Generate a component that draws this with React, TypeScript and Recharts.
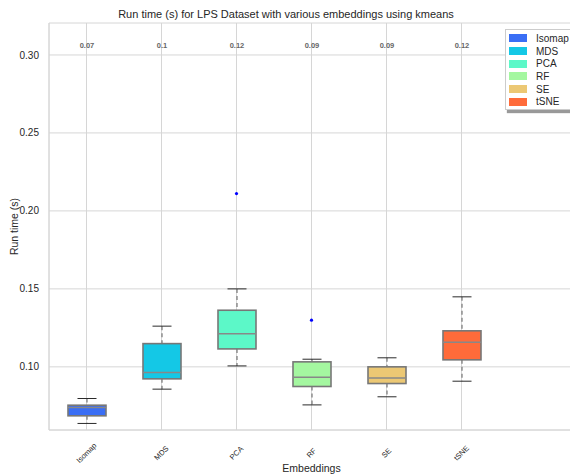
import React from 'react';
import { ComposedChart, Bar, Scatter, XAxis, YAxis, CartesianGrid, Legend } from 'recharts';

const categories = ['Isomap', 'MDS', 'PCA', 'RF', 'SE', 'tSNE'];
const colors = ['#3a6ef5', '#14c8e6', '#5cf8c8', '#a4f7a0', '#ecc874', '#ff6b3a'];
const whiskerLow = [0.0637, 0.0857, 0.1006, 0.0756, 0.0808, 0.0908];
const q1 = [0.0686, 0.0923, 0.1115, 0.0874, 0.0893, 0.1045];
const medians = [0.0739, 0.0963, 0.1213, 0.0934, 0.0928, 0.1158];
const q3 = [0.0754, 0.1149, 0.1363, 0.1032, 0.1000, 0.1231];
const whiskerHigh = [0.0797, 0.1261, 0.1500, 0.1049, 0.1058, 0.1449];
const meanLabels = ['0.07', '0.1', '0.12', '0.09', '0.09', '0.12'];
const outlierCats = ['PCA', 'RF'];
const outlierValues = [0.2111, 0.1299];
const yTicks = [0.1, 0.15, 0.2, 0.25, 0.3];
const yDomain = [0.0595, 0.3205];
const xDomain = [0.5, 7.5];

const data = categories.map((c, i) => ({
  pos: i + 1,
  name: c,
  color: colors[i],
  box: [q1[i], q3[i]],
  q1: q1[i],
  q3: q3[i],
  med: medians[i],
  lo: whiskerLow[i],
  hi: whiskerHigh[i],
  mean: meanLabels[i],
}));

const outliers = outlierCats.map((c, i) => ({ pos: categories.indexOf(c) + 1, value: outlierValues[i] }));

const FONT = '"Liberation Sans", Arial, sans-serif';

const BoxShape = (props: any) => {
  const { x, y, width, height, payload } = props;
  const p = payload;
  const k = height / (p.q3 - p.q1);
  const yv = (v: number) => y + (p.q3 - v) * k;
  const cx = x + width / 2;
  const capW = width / 2;
  const plotTop = yv(yDomain[1]);
  return (
    <g>
      <text x={cx} y={plotTop + 22} textAnchor="middle" dominantBaseline="central" fontSize={7.5} fontWeight="bold"
        fill="#666" fontFamily={FONT}>{p.mean}</text>
      <line x1={cx} x2={cx} y1={yv(p.hi)} y2={y} stroke="#777" strokeWidth={1.2} strokeDasharray="4 3" />
      <line x1={cx} x2={cx} y1={y + height} y2={yv(p.lo)} stroke="#777" strokeWidth={1.2} strokeDasharray="4 3" />
      <line x1={cx - capW / 2} x2={cx + capW / 2} y1={yv(p.hi)} y2={yv(p.hi)} stroke="#2a2a2a" strokeWidth={1} />
      <line x1={cx - capW / 2} x2={cx + capW / 2} y1={yv(p.lo)} y2={yv(p.lo)} stroke="#2a2a2a" strokeWidth={1} />
      <rect x={x} y={y} width={width} height={height} fill={p.color} stroke="#777" strokeWidth={1.6} />
      <line x1={x} x2={x + width} y1={yv(p.med)} y2={yv(p.med)} stroke="#888" strokeWidth={1.5} />
    </g>
  );
};

const OutlierShape = (props: any) => {
  const { cx, cy } = props;
  return <circle cx={cx} cy={cy} r={1.6} fill="#0000ff" />;
};

const BottomTick = (props: any) => {
  const { x, y, payload } = props;
  const label = categories[payload.value - 1];
  if (!label) return null;
  const cy = y + 15;
  return (
    <text x={x} y={cy} transform={`rotate(-45, ${x}, ${cy})`} textAnchor="middle" dominantBaseline="central"
      fontSize={7.5} fill="#262626" fontFamily={FONT}>{label}</text>
  );
};

const LegendContent = () => (
  <div style={{
    position: 'absolute', left: 505, top: 29, width: 80, height: 81, background: '#fff',
    border: '1px solid #ccc', boxShadow: '2px 3px 1px #999', fontFamily: FONT, fontSize: 10, color: '#262626',
    boxSizing: 'border-box', paddingTop: 2,
  }}>
    {categories.map((c, i) => (
      <div key={c} style={{ display: 'flex', alignItems: 'center', height: 12.7 }}>
        <div style={{ width: 18, height: 8, background: colors[i], marginLeft: 3, marginRight: 9 }} />
        <span>{c}</span>
      </div>
    ))}
  </div>
);

export default function App() {
  return (
    <div style={{ position: 'absolute', left: 0, top: 0, width: 570, height: 475, overflow: 'hidden', background: '#fff' }}>
      <svg width={570} height={30} style={{ position: 'absolute', left: 0, top: 0 }}>
        <text x={286} y={14} textAnchor="middle" dominantBaseline="central" fontSize={11} fill="#262626" fontFamily={FONT}>
          Run time (s) for LPS Dataset with various embeddings using kmeans
        </text>
      </svg>
      <div style={{ position: 'absolute', left: 0, top: 0 }}>
        <ComposedChart width={580} height={475} data={data} margin={{ top: 23, right: 6, bottom: 0, left: 0 }}>
          <CartesianGrid stroke="#d6d6d6" strokeWidth={1} />
          <XAxis dataKey="pos" type="number" domain={xDomain} ticks={[1, 2, 3, 4, 5, 6]} interval={0}
            allowDataOverflow height={45} axisLine={{ stroke: '#d6d6d6' }} tickLine={false} tick={<BottomTick />}
            label={{ value: 'Embeddings', position: 'insideBottom', offset: 3, fontSize: 10.5, fill: '#262626', fontFamily: FONT }} />
          <YAxis type="number" domain={yDomain} ticks={yTicks} allowDataOverflow width={49} interval={0}
            axisLine={{ stroke: '#d6d6d6' }} tickLine={false} tickMargin={4}
            tickFormatter={(v: number) => v.toFixed(2)}
            tick={{ fontSize: 10, fill: '#262626', fontFamily: FONT }}
            label={{ value: 'Run time (s)', angle: -90, position: 'insideLeft', offset: 14, fontSize: 10.5, fill: '#262626', fontFamily: FONT, style: { textAnchor: 'middle' } }} />
          <Bar dataKey="box" barSize={38} shape={<BoxShape />} isAnimationActive={false} />
          <Scatter data={outliers} dataKey="value" shape={<OutlierShape />} isAnimationActive={false} />
          <Legend content={<LegendContent />} wrapperStyle={{ position: 'absolute', left: 0, top: 0, width: 0, height: 0 }} />
        </ComposedChart>
      </div>
    </div>
  );
}
